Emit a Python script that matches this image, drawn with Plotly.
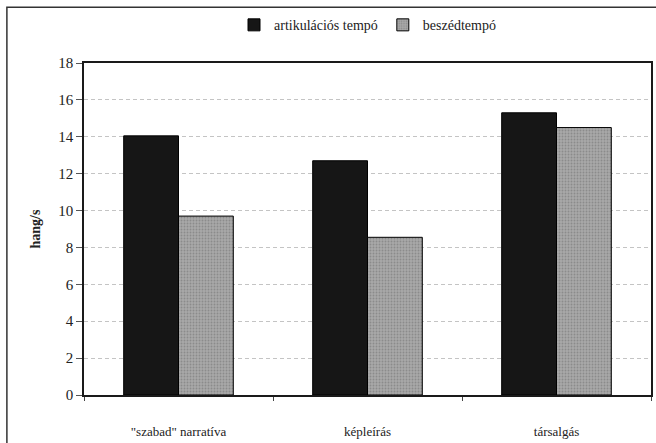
import plotly.graph_objects as go

# Speech-rate data (sounds per second) by speaking task
categories = ['"szabad" narratíva', "képleírás", "társalgás"]
artikulacios = [14.05, 12.7, 15.3]
beszed = [9.7, 8.55, 14.5]
series_names = ["artikulációs tempó", "beszédtempó"]
y_ticks = list(range(0, 19, 2))

serif = "Liberation Serif, Times New Roman, serif"

fig = go.Figure()
fig.add_trace(go.Bar(
    x=categories, y=artikulacios, name=series_names[0],
    marker=dict(color="#161616", line=dict(color="#000000", width=1)),
))
fig.add_trace(go.Bar(
    x=categories, y=beszed, name=series_names[1],
    marker=dict(color="#9c9c9c", line=dict(color="#000000", width=1),
                pattern=dict(shape=".", fgcolor="#6e6e6e", bgcolor="#a8a8a8",
                             size=3, solidity=0.3)),
))

fig.update_layout(
    width=656, height=443,
    margin=dict(l=84, r=5, t=63, b=48, autoexpand=False),
    paper_bgcolor="white", plot_bgcolor="white",
    barmode="group", bargap=0.42, bargroupgap=0,
    font=dict(family=serif, size=14, color="#222222"),
    showlegend=True,
    legend=dict(orientation="h", x=0.5, xanchor="center",
                yref="container", y=0.943, yanchor="middle",
                font=dict(family=serif, size=14, color="#222222"),
                itemwidth=30, tracegroupgap=0, bgcolor="rgba(0,0,0,0)"),
    xaxis=dict(
        showline=True, linecolor="#1a1a1a", linewidth=1.5, mirror=True,
        ticks="outside", ticklen=4, tickcolor="#444444",
        tickson="boundaries", showgrid=False, ticklabelstandoff=24,
        tickfont=dict(family=serif, size=13, color="#222222"),
    ),
    yaxis=dict(
        range=[0, 18], tickvals=y_ticks,
        showline=True, linecolor="#1a1a1a", linewidth=1.5, mirror=True,
        ticks="outside", ticklen=6, tickcolor="#555555",
        showgrid=True, gridcolor="#c4c4c4", griddash="4px,3px", gridwidth=1,
        zeroline=False,
        tickfont=dict(family=serif, size=15, color="#222222"),
        title=dict(text="<b>hang/s</b>", font=dict(family=serif, size=14, color="#222222"),
                   standoff=14),
    ),
    shapes=[dict(type="rect", xref="paper", yref="paper",
                 x0=-0.136, x1=1.06, y0=-0.2, y1=1.168,
                 line=dict(color="#333333", width=1.5), layer="below")],
)

fig.write_html("out.html")
